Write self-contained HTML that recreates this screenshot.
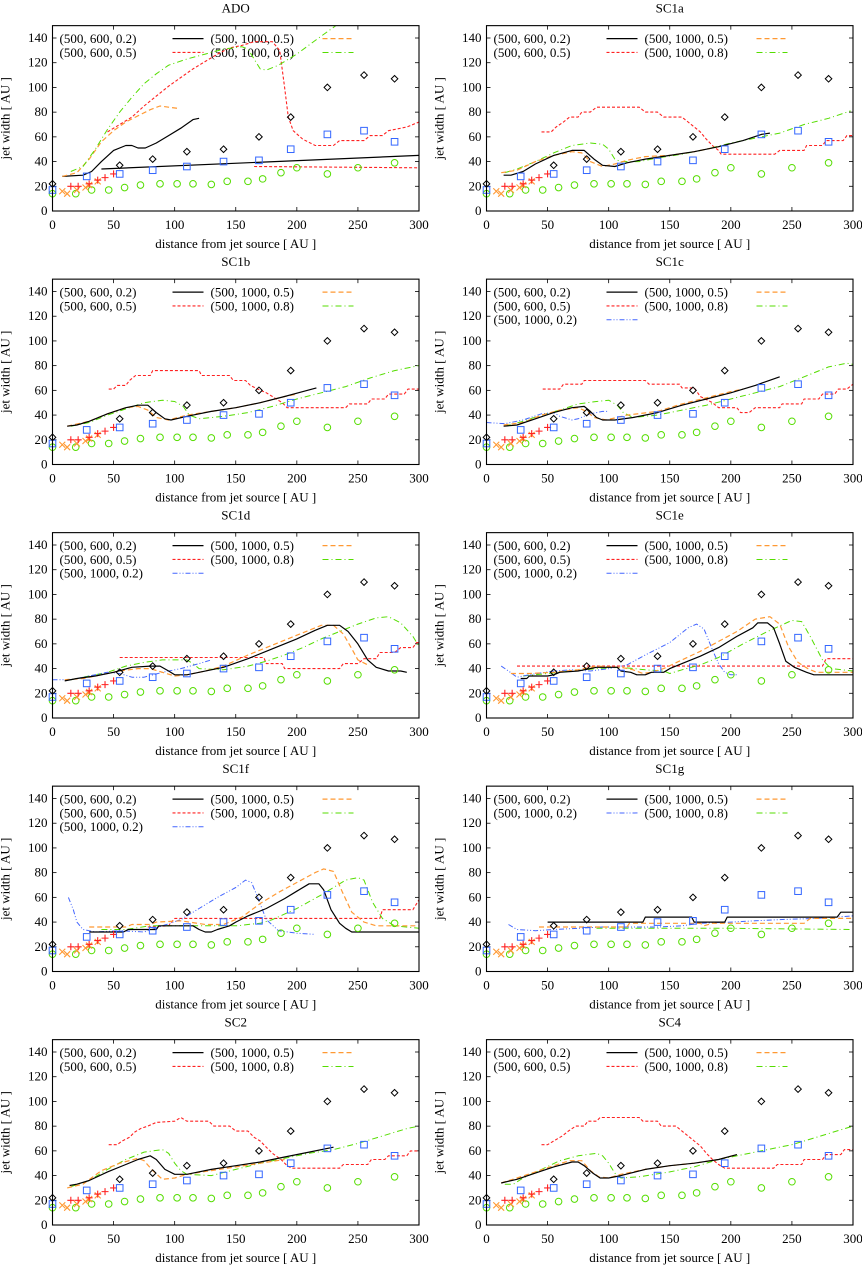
<!DOCTYPE html>
<html><head><meta charset="utf-8">
<style>
html,body{margin:0;padding:0;background:#fff;}
svg{display:block;font-family:"Liberation Serif",serif;}
</style></head>
<body>
<svg id="fig" width="862" height="1266" viewBox="0 0 862 1266" xmlns="http://www.w3.org/2000/svg"></svg>
<script>
// ---- observation data (shared) ----
const obsDiamondX=[0,55,82,110,140,169,195,225,255,280];
const obsDiamondY=[22,37,42,48,50,60,76,100,110,107];
const obsSquareX=[0,28,55,82,110,140,169,195,225,255,280];
const obsSquareY=[17,28,30,33,36,40,41,50,62,65,56];
const obsCircleX=[0,19,32,46,59,72,88,102,115,130,143,160,172,187,200,225,250,280];
const obsCircleY=[14,14,17,17,19,21,22,22,22,21.5,24,24,26,31,35,30,35,39];
const obsPlusX=[15,21,30,37,43,50];
const obsPlusY=[20,20,22,25,27,30];
const obsCrossX=[8,12,20,27,30,37];
const obsCrossY=[16,14,17,19,21,24];
const xTicks=[0,50,100,150,200,250,300];
const yTicks=[0,20,40,60,80,100,120,140];
const panelTitles=["ADO","SC1a","SC1b","SC1c","SC1d","SC1e","SC1f","SC1g","SC2","SC4"];

// ---- model curves per panel ----
const ado_black=[[8,28],[25,29],[32,32],[40,40],[50,49],[60,53],[65,53],[70,51],[76,51],[85,55],[95,61],[105,67],[115,74],[120,75]];
const ado_black2=[[40,34],[300,45]];
const ado_orange=[[8,28],[20,31],[30,42],[40,56],[50,65],[60,72],[70,77],[80,82],[88,85],[95,84],[103,83]];
const ado_red=[[45,64],[55,70],[65,76],[75,85],[85,93],[95,101],[105,108],[115,115],[125,121],[135,127],[145,132],[155,134],[165,137],[180,137],[186,130],[190,100],[193,76],[197,65],[205,58],[215,53],[230,53],[235,57],[255,57],[260,61],[270,61],[275,65],[290,68],[300,72]];
const ado_red2=[[165,36],[300,35]];
const ado_green=[[15,32],[25,36],[35,50],[45,66],[55,80],[65,92],[75,103],[85,111],[95,118],[110,123],[125,127],[140,131],[155,133],[160,131],[170,115],[175,114],[185,118],[200,127],[215,138],[232,150]];

const sc1a_black=[[14,29],[20,29],[30,32],[40,38],[55,45],[70,49],[80,49],[88,42],[95,37],[105,36],[115,39],[130,42],[150,45],[170,48],[190,52],[210,57],[225,62],[232,63]];
const sc1a_orange=[[12,31],[25,33],[40,40],[55,45],[70,48],[78,47],[85,40],[95,36],[105,38],[115,41],[130,44],[150,45],[170,48],[190,52],[200,54]];
const sc1a_green=[[15,31],[25,34],[40,40],[55,47],[70,53],[85,55],[95,54],[100,50],[105,42],[110,40],[125,40],[140,43],[160,46],[180,50],[200,55],[220,59],[240,63],[260,70],[280,75],[298,81]];
const sc1a_red=[[45,64],[53,64],[57,68],[63,72],[68,76],[75,76],[78,80],[85,80],[90,84],[125,84],[130,80],[140,80],[145,76],[160,76],[165,72],[170,68],[175,64],[180,58],[186,52],[190,49],[192,46],[236,46],[240,49],[260,49],[262,53],[275,53],[278,57],[292,57],[295,61],[300,61]];

const sc1b_black=[[12,31],[20,32],[30,35],[45,41],[60,46],[70,48],[78,48],[85,42],[92,37],[97,36],[110,39],[130,43],[150,46],[170,50],[190,55],[205,59],[216,62]];
const sc1b_orange=[[12,31],[30,35],[45,41],[60,46],[70,47],[78,44],[85,38],[95,36],[110,40],[130,43],[150,46],[170,50],[190,55],[200,57]];
const sc1b_green=[[15,31],[30,34],[45,40],[60,45],[75,50],[90,52],[100,51],[107,47],[112,40],[120,37],[140,39],[160,42],[180,47],[200,53],[220,58],[240,63],[260,70],[280,76],[300,80]];
const sc1b_red=[[46,61],[50,61],[53,64],[60,64],[63,68],[68,72],[80,72],[82,76],[120,76],[122,72],[145,72],[148,68],[158,68],[162,64],[168,61],[175,58],[180,55],[188,50],[192,46],[240,46],[243,49],[258,49],[261,53],[272,53],[275,57],[288,57],[291,61],[300,61]];

const sc1c_black=[[14,31],[25,32],[40,37],[55,42],[70,46],[80,47],[85,43],[90,38],[95,36],[105,36],[120,38],[140,42],[160,48],[180,53],[200,58],[220,64],[240,71]];
const sc1c_orange=[[14,32],[30,34],[45,40],[60,44],[75,46],[82,43],[88,38],[98,36],[115,40],[140,43],[160,49],[180,54],[200,59],[210,61]];
const sc1c_blue=[[0,34],[15,33],[30,36],[45,41],[55,42],[60,39],[70,36],[75,37],[85,41],[95,43],[100,43]];
const sc1c_green=[[15,31],[30,35],[45,40],[60,44],[75,49],[90,51],[100,52],[107,48],[112,42],[120,38],[140,40],[160,44],[180,48],[200,53],[220,58],[240,63],[260,71],[280,79],[295,82],[300,81]];
const sc1c_red=[[46,61],[60,61],[63,65],[78,65],[80,68],[130,68],[133,65],[158,65],[160,62],[170,62],[175,55],[185,50],[190,46],[205,46],[208,42],[215,42],[220,46],[240,46],[242,49],[258,49],[260,53],[272,53],[275,57],[285,57],[288,61],[295,61],[300,65]];

const sc1d_black=[[10,30],[20,32],[35,34],[50,37],[65,41],[80,42],[88,42],[95,38],[100,35],[110,35],[120,37],[140,41],[160,48],[180,56],[200,64],[215,71],[225,75],[235,75],[242,70],[250,60],[258,47],[265,41],[275,38],[285,38],[290,37]];
const sc1d_orange=[[10,31],[25,32],[40,35],[55,38],[70,40],[80,40],[90,37],[100,34],[110,35],[125,38],[140,42],[160,51],[180,59],[200,67],[220,75],[230,75],[238,68],[245,56],[250,47],[258,43]];
const sc1d_blue=[[0,31],[15,31],[30,34],[45,37],[55,36],[65,33],[75,33],[90,37],[105,40],[120,44],[130,47]];
const sc1d_green=[[15,31],[30,34],[45,37],[60,42],[75,45],[90,47],[110,47],[115,44],[120,40],[140,39],[160,42],[175,46],[190,51],[205,57],[220,64],[235,70],[250,76],[265,81],[275,82],[285,77],[295,66],[300,58]];
const sc1d_red=[[55,49],[173,49],[175,44],[188,44],[190,40],[235,40],[238,44],[250,44],[255,48],[265,48],[268,53],[280,53],[285,57],[295,57],[298,61],[300,61]];

const sc1e_black=[[28,32],[33,32],[35,34],[50,34],[55,35],[60,37],[75,38],[80,39],[90,41],[107,41],[110,38],[118,37],[123,35],[130,35],[135,37],[145,37],[150,40],[160,44],[175,50],[190,57],[205,66],[218,73],[222,77],[230,77],[235,73],[240,60],[245,46],[252,41],[262,37],[268,35],[300,35]];
const sc1e_orange=[[20,36],[35,36],[55,37],[75,39],[90,42],[110,41],[120,39],[128,36],[135,37],[145,40],[160,47],[175,54],[190,62],[205,70],[220,80],[232,82],[240,76],[247,58],[255,45],[263,40],[270,37],[300,37]];
const sc1e_blue=[[12,42],[18,38],[25,33],[35,35],[55,38],[70,39],[85,38],[100,40],[115,43],[130,51],[150,61],[165,73],[172,76],[178,72],[185,55],[190,44],[195,37],[200,35],[205,35]];
const sc1e_green=[[30,34],[50,36],[70,38],[90,40],[110,41],[130,39],[145,38],[150,36],[160,39],[175,43],[190,49],[210,60],[230,70],[250,79],[258,78],[265,66],[275,47],[282,40],[300,38]];
const sc1e_red=[[25,42],[275,42],[278,48],[300,48]];

const sc1f_black=[[30,32],[58,32],[62,34],[85,34],[87,37],[115,37],[120,34],[125,32],[130,32],[135,34],[145,37],[150,40],[160,45],[175,51],[190,59],[200,65],[210,71],[218,71],[222,66],[228,50],[235,39],[240,35],[245,32],[300,32]];
const sc1f_orange=[[30,36],[60,36],[65,38],[80,38],[85,40],[105,41],[125,38],[140,38],[155,44],[170,55],[185,64],[200,72],[215,80],[222,83],[230,81],[237,65],[245,48],[255,40],[265,37],[300,37]];
const sc1f_blue=[[13,60],[17,50],[20,40],[25,34],[35,32],[55,33],[75,32],[90,37],[105,42],[120,51],[135,60],[150,68],[158,74],[163,72],[168,60],[175,42],[185,33],[200,31],[215,30]];
const sc1f_green=[[40,34],[60,34],[80,37],[100,37],[120,37],[152,37],[160,38],[170,39],[180,42],[200,51],[220,62],[240,74],[250,76],[255,74],[262,56],[270,43],[280,37],[300,35]];
const sc1f_red=[[78,36],[95,37],[100,43],[268,43],[270,50],[295,50],[300,58]];

const sc1g_black=[[50,40],[128,40],[130,44],[168,44],[170,40],[195,40],[197,44],[287,44],[290,48],[300,48]];
const sc1g_orange=[[43,36],[115,36],[117,39],[175,39],[178,37],[185,39],[260,39],[265,43],[300,43]];
const sc1g_blue=[[18,38],[25,34],[40,33],[55,34],[75,35],[95,36],[115,36],[140,36],[160,37],[175,39],[200,40],[220,41],[240,42],[270,43],[300,45]];
const sc1g_green=[[90,35],[130,35],[200,35],[300,34]];

const sc2_black=[[14,32],[20,33],[30,36],[45,43],[60,49],[70,53],[80,56],[85,53],[92,45],[100,41],[110,41],[130,45],[150,48],[170,51],[190,55],[210,59],[230,63]];
const sc2_orange=[[12,30],[25,33],[40,44],[55,50],[70,54],[75,52],[82,44],[90,37],[100,38],[110,41],[130,44],[150,47],[170,50],[190,53]];
const sc2_green=[[15,31],[30,36],[45,45],[60,53],[75,59],[90,61],[95,58],[100,50],[105,44],[110,41],[130,40],[150,45],[170,50],[190,54],[210,58],[230,61],[250,66],[270,72],[290,78],[300,80]];
const sc2_red=[[46,65],[53,65],[57,68],[63,71],[67,75],[72,78],[78,80],[85,83],[100,84],[105,87],[110,84],[128,84],[132,80],[145,80],[150,76],[160,76],[165,71],[170,68],[175,63],[180,58],[187,53],[192,48],[196,46],[235,46],[238,49],[258,49],[261,53],[272,53],[275,56],[290,56],[293,60],[300,60]];

const sc4_black=[[12,34],[25,37],[40,42],[55,47],[70,51],[75,51],[80,48],[87,42],[93,38],[100,38],[110,40],[130,45],[150,48],[170,50],[190,53],[205,57]];
const sc4_orange=[[12,34],[25,38],[40,43],[55,48],[68,52],[78,52],[85,44],[92,39],[100,38],[110,41],[130,45],[150,48],[170,50],[190,53],[205,57]];
const sc4_green=[[15,33],[22,33],[30,38],[45,45],[60,52],[75,56],[90,58],[95,56],[100,50],[105,42],[110,38],[125,39],[150,43],[170,47],[190,53],[210,57],[230,61],[250,65],[270,71],[290,77],[300,80]];
const sc4_red=[[45,65],[50,65],[55,68],[62,72],[67,76],[73,80],[80,80],[83,84],[90,84],[93,87],[125,87],[128,84],[140,84],[143,80],[155,80],[160,76],[165,72],[170,68],[175,64],[180,58],[185,53],[190,49],[195,46],[235,46],[238,49],[258,49],[260,53],[275,53],[278,57],[290,57],[293,61],[300,61]];

const STY={
 black:{c:"#000",d:"",w:1.2},
 red:{c:"#f22",d:"3,2",w:1.1},
 orange:{c:"#f93",d:"5,3",w:1.2},
 green:{c:"#5d0",d:"6,3,1,3",w:1.0},
 blue:{c:"#46f",d:"5,2,1,2,1,2",w:1.0}
};
const panelSeries=[
 [["black",ado_black],["black",ado_black2],["orange",ado_orange],["red",ado_red],["red",ado_red2],["green",ado_green]],
 [["red",sc1a_red],["green",sc1a_green],["orange",sc1a_orange],["black",sc1a_black]],
 [["red",sc1b_red],["green",sc1b_green],["orange",sc1b_orange],["black",sc1b_black]],
 [["red",sc1c_red],["green",sc1c_green],["blue",sc1c_blue],["orange",sc1c_orange],["black",sc1c_black]],
 [["red",sc1d_red],["green",sc1d_green],["blue",sc1d_blue],["orange",sc1d_orange],["black",sc1d_black]],
 [["red",sc1e_red],["green",sc1e_green],["blue",sc1e_blue],["orange",sc1e_orange],["black",sc1e_black]],
 [["red",sc1f_red],["green",sc1f_green],["blue",sc1f_blue],["orange",sc1f_orange],["black",sc1f_black]],
 [["green",sc1g_green],["blue",sc1g_blue],["orange",sc1g_orange],["black",sc1g_black]],
 [["red",sc2_red],["green",sc2_green],["orange",sc2_orange],["black",sc2_black]],
 [["red",sc4_red],["green",sc4_green],["orange",sc4_orange],["black",sc4_black]]
];
const legStd=[["(500, 600, 0.2)","black","(500, 1000, 0.5)","orange"],["(500, 600, 0.5)","red","(500, 1000, 0.8)","green"]];
const legBlue=[["(500, 600, 0.2)","black","(500, 1000, 0.5)","orange"],["(500, 600, 0.5)","red","(500, 1000, 0.8)","green"],["(500, 1000, 0.2)","blue",null,null]];
const legG=[["(500, 600, 0.2)","black","(500, 1000, 0.5)","orange"],["(500, 1000, 0.2)","blue","(500, 1000, 0.8)","green"]];
const panelLegends=[legStd,legStd,legStd,legBlue,legBlue,legBlue,legBlue,legG,legStd,legStd];

const NS="http://www.w3.org/2000/svg";
const fig=document.getElementById('fig');
function mk(tag,attrs,parent){const e=document.createElementNS(NS,tag);for(const k in attrs)e.setAttribute(k,attrs[k]);(parent||fig).appendChild(e);return e;}

const defs=mk('defs',{});
const rowY0=[211,464.5,718,971.5,1225];
const colX0=[52.5,486.5], W=366.5, PX=173/140, H=150*PX;
const FS=13;

panelTitles.forEach((title,pi)=>{
 const col=pi%2,row=Math.floor(pi/2);
 const x0=colX0[col],y0=rowY0[row],top=y0-H;
 const sx=v=>x0+v*W/300, sy=v=>y0-v*PX;
 const g=mk('g',{});
 
 
 const cp=mk('clipPath',{id:'cp'+pi},defs);
 mk('rect',{x:x0,y:top,width:W,height:H},cp);
 const t=mk('text',{x:x0+W/2,y:top-13,'text-anchor':'middle','font-size':FS},g);t.textContent=title;
 
 xTicks.forEach(v=>{
  mk('line',{x1:sx(v),x2:sx(v),y1:y0,y2:y0-4,stroke:'#000','stroke-width':0.8},g);
  mk('line',{x1:sx(v),x2:sx(v),y1:top,y2:top+4,stroke:'#000','stroke-width':0.8},g);
  const l=mk('text',{x:sx(v),y:y0+18,'text-anchor':'middle','font-size':FS},g);l.textContent=v;
  
 });
 yTicks.forEach(v=>{
  mk('line',{x1:x0,x2:x0+4,y1:sy(v),y2:sy(v),stroke:'#000','stroke-width':0.8},g);
  mk('line',{x1:x0+W,x2:x0+W-4,y1:sy(v),y2:sy(v),stroke:'#000','stroke-width':0.8},g);
  const l=mk('text',{x:x0-5,y:sy(v)+4,'text-anchor':'end','font-size':FS},g);l.textContent=v;
  
 });
 const xl=mk('text',{x:x0+W/2,y:y0+37,'text-anchor':'middle','font-size':FS},g);xl.textContent='distance from jet source [ AU ]';
 
 const yx=x0-43, yy=y0-H/2;
 const yl=mk('text',{x:yx,y:yy,'text-anchor':'middle','font-size':FS,transform:`rotate(-90 ${yx} ${yy})`},g);yl.textContent='jet width [ AU ]';
 
 panelLegends[pi].forEach((r,ri)=>{
  const ly=top+13+ri*13.8;
  for(let c=0;c<2;c++){
   const lab=r[c*2],st=r[c*2+1]; if(!lab)continue;
   const tx=x0+(c?158:7);
   const lt=mk('text',{x:tx,y:ly+4.5,'font-size':FS},g);lt.textContent=lab;
   
   const s=STY[st], lx=x0+(c?270:120);
   mk('line',{x1:lx,x2:lx+31,y1:ly,y2:ly,stroke:s.c,'stroke-width':s.w,'stroke-dasharray':s.d},g);
  }
 });
 const sg=mk('g',{'clip-path':`url(#cp${pi})`},g);
 panelSeries[pi].forEach(([st,pts])=>{
  const s=STY[st];
  const p=mk('polyline',{points:pts.map(q=>sx(q[0]).toFixed(1)+','+sy(q[1]).toFixed(1)).join(' '),fill:'none',stroke:s.c,'stroke-width':s.w,'stroke-dasharray':s.d,'stroke-linejoin':'round'},sg);
  
  
 });
 obsCircleX.forEach((v,i)=>{const e=mk('circle',{cx:sx(v),cy:sy(obsCircleY[i]),r:3.3,fill:'none',stroke:'#5d0','stroke-width':1},g);
  });
 obsCrossX.forEach((v,i)=>{const cx=sx(v),cy=sy(obsCrossY[i]);const e=mk('path',{d:`M${cx-3},${cy-3}L${cx+3},${cy+3}M${cx-3},${cy+3}L${cx+3},${cy-3}`,stroke:'#f93','stroke-width':1.1},g);
  });
 obsPlusX.forEach((v,i)=>{const cx=sx(v),cy=sy(obsPlusY[i]);const e=mk('path',{d:`M${cx-3.5},${cy}L${cx+3.5},${cy}M${cx},${cy-3.5}L${cx},${cy+3.5}`,stroke:'#f22','stroke-width':1.1},g);
  });
 obsSquareX.forEach((v,i)=>{const e=mk('rect',{x:sx(v)-3.3,y:sy(obsSquareY[i])-3.3,width:6.6,height:6.6,fill:'none',stroke:'#36f','stroke-width':1},g);
  });
 obsDiamondX.forEach((v,i)=>{const cx=sx(v),cy=sy(obsDiamondY[i]);const e=mk('path',{d:`M${cx},${cy-3.3}L${cx+3.3},${cy}L${cx},${cy+3.3}L${cx-3.3},${cy}Z`,fill:'none',stroke:'#000','stroke-width':1},g);
  });
 const fr=mk('rect',{x:x0,y:top,width:W,height:H,fill:'none',stroke:'#000','stroke-width':1.1},g);
 
});
</script>
</body></html>
